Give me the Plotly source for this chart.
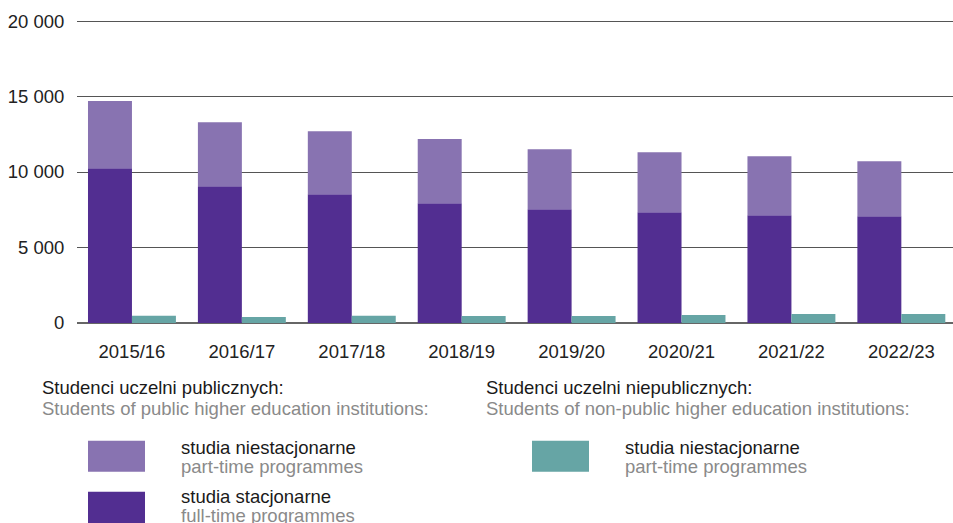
import plotly.graph_objects as go

years = ["2015/16", "2016/17", "2017/18", "2018/19", "2019/20", "2020/21", "2021/22", "2022/23"]
public_full_time = [10250, 9060, 8530, 7930, 7540, 7340, 7140, 7070]
public_part_time = [4450, 4230, 4165, 4255, 3965, 3965, 3900, 3640]
nonpublic_part_time = [480, 400, 480, 470, 460, 530, 595, 595]

y_ticks = [0, 5000, 10000, 15000, 20000]
y_tick_labels = ["0", "5 000", "10 000", "15 000", "20 000"]

C_FULL = "#522e91"
C_PART = "#8873b1"
C_NONPUB = "#66a5a5"
FONT = "Liberation Sans, Arial, sans-serif"

W, H = 953, 523
L, R, T, B = 77, 0, 17.5, 200
Y_MAX = 20200

fig = go.Figure()
fig.add_bar(x=years, y=public_full_time, marker_color=C_FULL, width=0.4, offset=-0.4,
            marker_line_width=0, hoverinfo="skip")
fig.add_bar(x=years, y=public_part_time, base=public_full_time, marker_color=C_PART,
            width=0.4, offset=-0.4, marker_line_width=0, hoverinfo="skip")
fig.add_bar(x=years, y=nonpublic_part_time, marker_color=C_NONPUB, width=0.4, offset=0.0,
            marker_line_width=0, hoverinfo="skip")

pw = W - L - R
ph = H - T - B


def px(x):
    return (x - L) / pw


def py(y):
    return (H - B - y) / ph


shapes = []
annotations = []


def swatch(x0, y0, x1, y1, color):
    shapes.append(dict(type="rect", xref="paper", yref="paper", x0=px(x0), x1=px(x1),
                       y0=py(y1), y1=py(y0), fillcolor=color, line_width=0, layer="above"))


def text(x, y, s, color):
    annotations.append(dict(xref="paper", yref="paper", x=px(x), y=py(y), text=s,
                            showarrow=False, xanchor="left", yanchor="middle",
                            font=dict(family=FONT, size=18.5, color=color)))


DARK = "#1a1a1a"
GREY = "#8a8a8a"

text(40, 388, "Studenci uczelni publicznych:", DARK)
text(40, 409, "Students of public higher education institutions:", GREY)
text(484, 388, "Studenci uczelni niepublicznych:", DARK)
text(484, 409, "Students of non-public higher education institutions:", GREY)

swatch(88, 441, 145, 472, C_PART)
text(179, 448, "studia niestacjonarne", DARK)
text(179, 467, "part-time programmes", GREY)

swatch(88, 492, 145, 530, C_FULL)
text(179, 497, "studia stacjonarne", DARK)
text(179, 516, "full-time programmes", GREY)

swatch(532, 441, 589, 472, C_NONPUB)
text(623, 448, "studia niestacjonarne", DARK)
text(623, 467, "part-time programmes", GREY)

fig.update_layout(
    width=W, height=H,
    margin=dict(l=L, r=R, t=T, b=B, pad=0),
    barmode="overlay",
    showlegend=False,
    plot_bgcolor="white", paper_bgcolor="white",
    font=dict(family=FONT, size=18.5, color="#222222"),
    shapes=shapes,
    annotations=annotations,
    xaxis=dict(type="category", range=[-0.5, 7.47], showgrid=False, showline=False,
               zeroline=False, ticks="outside", ticklen=12, tickcolor="white",
               tickfont=dict(family=FONT, size=18.5, color="#222222")),
    yaxis=dict(range=[0, Y_MAX], tickvals=y_ticks, ticktext=y_tick_labels,
               showgrid=True, gridcolor="#555555", gridwidth=1,
               zeroline=True, zerolinecolor="#666666", zerolinewidth=1.5,
               showline=False, ticks="outside", ticklen=8, tickcolor="white",
               tickfont=dict(family=FONT, size=18.5, color="#222222")),
)

post = (
    "document.body.style.margin='0';"
    "document.body.style.overflow='hidden';"
    "var gd=document.getElementById('{plot_id}');"
    "gd.style.width='953px';gd.style.height='523px';"
    "Plotly.relayout(gd,{width:953,height:523});"
)

fig.write_html("out.html", post_script=post, config={"displayModeBar": False})
